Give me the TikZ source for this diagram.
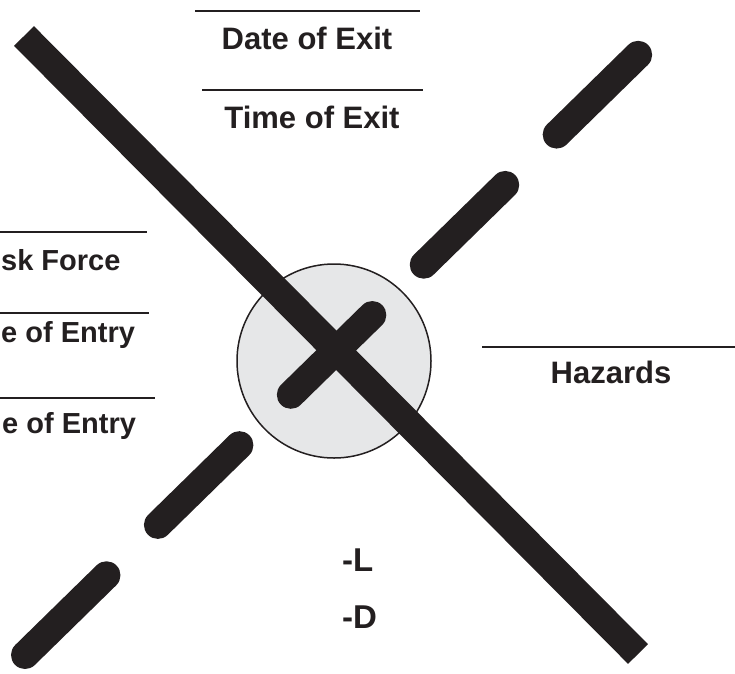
\documentclass[tikz,border=0pt]{standalone}
\usepackage{fontspec}
\setmainfont{Liberation Sans}
\usetikzlibrary{positioning}
\definecolor{ink}{HTML}{231F20}
\definecolor{disc}{HTML}{E6E7E8}

\begin{document}
\begin{tikzpicture}[x=1pt,y=-1pt,
  lbl/.style={inner sep=0pt,text=ink,font=\fontsize{31}{36}\selectfont\bfseries},
  side/.style={lbl,font=\fontsize{29}{34}\selectfont\bfseries},
  tag/.style={lbl,font=\fontsize{33}{38}\selectfont\bfseries},
  rule/.style={draw=ink,line width=2pt},
  bar/.style={draw=ink,line width=28pt},
  dashbar/.style={draw=ink,line width=28pt,line cap=round,dash pattern=on 114pt off 72pt}]

\useasboundingbox (0,0) rectangle (735,673);

\coordinate (O) at (334,361);
\coordinate (S1) at (24,36);
\coordinate (S2) at (638,654);
\coordinate (D1) at (25,655);
\coordinate (D2) at (640,53);

\draw[fill=disc,draw=ink,line width=1.5pt] (O) circle (97);
\draw[bar] (S1)--(S2);
\draw[dashbar] (D1)--(D2);

% exit
\coordinate (ra) at (195,11);
\coordinate (rb) at (420,11);
\coordinate (rc) at (202,90);
\coordinate (rd) at (423,90);
\draw[rule] (ra)--(rb);
\draw[rule] (rc)--(rd);
\node[lbl,anchor=base] (dexit) at (307,49) {Date of Exit};
\node[lbl,anchor=base] (texit) at (312,128) {Time of Exit};

% entry
\coordinate (re) at (0,232);
\coordinate (rf) at (147,232);
\coordinate (rg) at (0,313);
\coordinate (rh) at (149,313);
\coordinate (ri) at (0,398);
\coordinate (rj) at (155,398);
\draw[rule] (re)--(rf);
\draw[rule] (rg)--(rh);
\draw[rule] (ri)--(rj);
\node[side,anchor=base west] (force) at (1,270) {sk Force};
\node[side,anchor=base west] (dentry) at (1,342) {e of Entry};
\node[side,anchor=base west] (tentry) at (2,433) {e of Entry};

% hazards
\coordinate (rk) at (482,347);
\coordinate (rl) at (735,347);
\draw[rule] (rk)--(rl);
\node[lbl,anchor=base] (haz) at (611,383) {Hazards};

\node[tag,anchor=base west] (lev) at (342,571) {-L};
\node[tag,anchor=base west] (dev) at (342,628) {-D};

\end{tikzpicture}
\end{document}
